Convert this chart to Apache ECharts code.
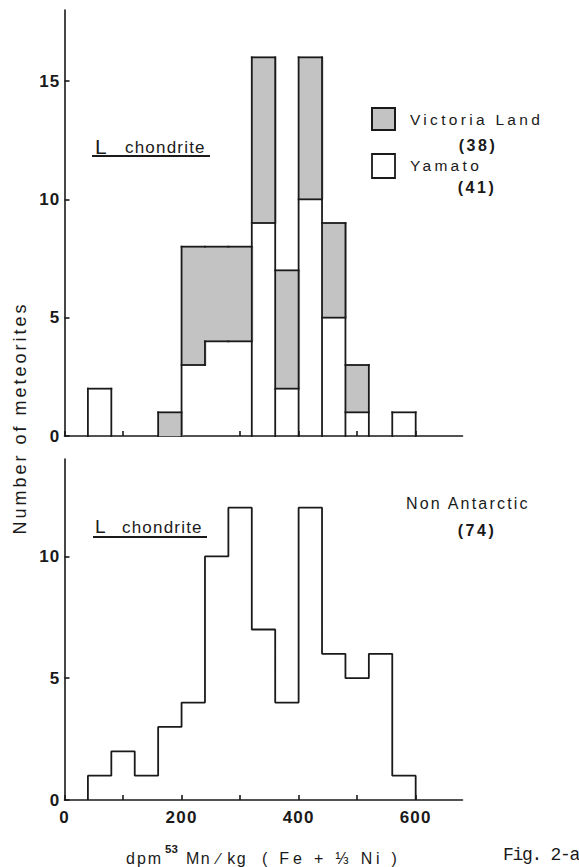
<!DOCTYPE html>
<html>
<head>
<meta charset="utf-8">
<script src="https://cdn.jsdelivr.net/npm/echarts@6/dist/echarts.min.js"></script>
<style>
html,body{margin:0;padding:0;background:#fff;}
#chart{width:579px;height:867px;}
</style>
</head>
<body>
<div id="chart"></div>
<script>
// ---- data (bins of 40 dpm/kg) ----
const binEdges = [0,40,80,120,160,200,240,280,320,360,400,440,480,520,560,600,640,680];
const yamato       = [0,2,0,0,0,3,4,4,9,2,10,5,1,0,1,0,0];
const victoriaLand = [0,0,0,0,1,5,4,4,7,5,6,4,2,0,0,0,0];
const nonAntarctic = [0,1,2,1,3,4,10,12,7,4,12,6,5,6,1,0,0];
const xTicks = [0,100,200,300,400,500,600];
const xTickLabels = [0,200,400,600];
const yTicksTop = [0,5,10,15];
const yTicksBottom = [0,5,10];

const FONT = 'Liberation Sans';
const INK = '#1a1a1a';
const GRAY = '#c3c3c3';
const LW = 1.8;

// top histogram data items: [start, end, yamato, victoria]
const topData = [];
for (let i = 0; i < yamato.length; i++) topData.push([binEdges[i], binEdges[i+1], yamato[i], victoriaLand[i]]);

// bottom outline as step line
let f = nonAntarctic.findIndex(v => v > 0);
let l = nonAntarctic.length - 1; while (nonAntarctic[l] === 0) l--;
const bottomData = [[binEdges[f], 0]];
for (let i = f; i <= l; i++) bottomData.push([binEdges[i], nonAntarctic[i]]);
bottomData.push([binEdges[l+1], 0]);

function renderTop(params, api) {
  const i = params.dataIndex;
  const s = api.value(0), e = api.value(1), yv = api.value(2), vv = api.value(3);
  const pY = i > 0 ? yamato[i-1] : 0, pV = i > 0 ? victoriaLand[i-1] : 0;
  const nV = i < victoriaLand.length - 1 ? victoriaLand[i+1] : 0;
  const x0 = api.coord([s, 0])[0], x1 = api.coord([e, 0])[0];
  const Y = v => api.coord([s, v])[1];
  const total = yv + vv, pTotal = pY + pV;
  const ch = [];
  const line = (a, b, c, d) => ch.push({type:'line', z2:10, shape:{x1:a,y1:b,x2:c,y2:d}, style:{stroke:INK, lineWidth:LW, lineCap:'square'}});
  if (vv > 0) {
    const over = nV > 0 ? 1.5 : 0;   // overlap to avoid seams between adjacent gray bins
    ch.push({type:'rect', z2:0, shape:{x:x0, y:Y(total), width:x1-x0+over, height:Y(yv)-Y(total)}, style:{fill:GRAY}});
  }
  if (total > 0) line(x0, Y(total), x1, Y(total));
  if (yv > 0 && vv > 0) line(x0, Y(yv), x1, Y(yv));
  if (pTotal !== total) line(x0, Y(0), x0, Y(Math.max(pTotal, total)));
  else if (pY !== yv) line(x0, Y(Math.min(pY, yv)), x0, Y(Math.max(pY, yv)));
  return {type:'group', children: ch};
}

const axisLineStyle = {lineStyle:{color:INK, width:1.6}};
const tickStyle = {inside:true, length:5, lineStyle:{color:INK, width:1.6}};
const labelStyle = {color:INK, fontFamily:FONT, fontWeight:'bold', fontSize:17};

function xAxis(idx, showLabels) {
  return {
    type:'value', gridIndex:idx, min:0, max:680,
    axisLine:{show:true, onZero:false, ...axisLineStyle},
    axisTick:{show:true, ...tickStyle, customValues:xTicks},
    axisLabel: showLabels ? {show:true, ...labelStyle, margin:9, customValues:xTickLabels} : {show:false},
    splitLine:{show:false}
  };
}
function yAxis(idx, max, ticks) {
  return {
    type:'value', gridIndex:idx, min:0, max:max,
    axisLine:{show:true, ...axisLineStyle},
    axisTick:{show:true, ...tickStyle, customValues:ticks},
    axisLabel:{show:true, ...labelStyle, margin:4, customValues:ticks},
    splitLine:{show:false}
  };
}

const txt = (o) => ({type:'text', silent:true, style:Object.assign({fill:INK, fontFamily:FONT, fontSize:15}, o.style), x:o.x, y:o.y, rotation:o.rotation||0});

const option = {
  animation:false,
  backgroundColor:'#fff',
  grid:[
    {left:64.5, top:10, width:398, height:426},
    {left:64.5, top:459, width:398, height:341}
  ],
  xAxis:[xAxis(0,false), xAxis(1,true)],
  yAxis:[yAxis(0,18,yTicksTop), yAxis(1,14,yTicksBottom)],
  series:[
    {type:'custom', name:'L chondrite Antarctic', xAxisIndex:0, yAxisIndex:0, renderItem:renderTop, data:topData},
    {type:'line', name:'Non Antarctic', xAxisIndex:1, yAxisIndex:1, step:'end', symbol:'none',
     lineStyle:{color:INK, width:LW}, data:bottomData}
  ],
  graphic:[
    // top "L chondrite"
    txt({x:95, y:146, style:{text:'L', fontSize:21, verticalAlign:'middle'}}),
    txt({x:125, y:147, style:{text:'chondrite', fontSize:17, verticalAlign:'middle'}}),
    {type:'line', shape:{x1:92,y1:156,x2:210,y2:156}, style:{stroke:INK, lineWidth:2}},
    // bottom "L chondrite"
    txt({x:95, y:526, style:{text:'L', fontSize:19, verticalAlign:'middle'}}),
    txt({x:122, y:527, style:{text:'chondrite', fontSize:17, verticalAlign:'middle'}}),
    {type:'line', shape:{x1:93,y1:537,x2:207,y2:537}, style:{stroke:INK, lineWidth:2}},
    // legend
    {type:'rect', shape:{x:372, y:108, width:23, height:22}, style:{fill:GRAY, stroke:INK, lineWidth:2}},
    {type:'rect', shape:{x:372, y:154, width:23, height:24}, style:{fill:'#fff', stroke:INK, lineWidth:1.8}},
    txt({x:410, y:119, style:{text:'Victoria Land', fontSize:15.5, verticalAlign:'middle'}}),
    txt({x:478, y:145, style:{text:'(38)', fontSize:16, fontWeight:'bold', align:'center', verticalAlign:'middle'}}),
    txt({x:410, y:165, style:{text:'Yamato', fontSize:15.5, verticalAlign:'middle'}}),
    txt({x:477, y:187, style:{text:'(41)', fontSize:16, fontWeight:'bold', align:'center', verticalAlign:'middle'}}),
    // non antarctic
    txt({x:406, y:503, style:{text:'Non Antarctic', fontSize:16, verticalAlign:'middle'}}),
    txt({x:477, y:530, style:{text:'(74)', fontSize:16, fontWeight:'bold', align:'center', verticalAlign:'middle'}}),
    // y axis title
    txt({x:20, y:418, rotation:Math.PI/2, style:{text:'Number of meteorites', fontSize:18, align:'center', verticalAlign:'middle'}}),
    // x axis title
    txt({x:126, y:858, style:{text:'dpm', fontSize:16, verticalAlign:'middle'}}),
    txt({x:165, y:849, style:{text:'53', fontSize:11.5, fontWeight:'bold', verticalAlign:'middle'}}),
    txt({x:186, y:858, style:{text:'Mn ∕ kg', fontSize:16, verticalAlign:'middle'}}),
    txt({x:262, y:858, style:{text:'( Fe + ⅓ Ni )', fontSize:16, verticalAlign:'middle'}}),
    // figure label
    txt({x:503, y:855, style:{text:'Fig. 2-a', fontFamily:'Liberation Mono', fontSize:18, verticalAlign:'middle'}})
  ]
};

const chart = echarts.init(document.getElementById('chart'), null, {renderer:'svg'});
chart.setOption(option);

const spacing = {
  'Victoria Land':3.3, 'Yamato':3.3, 'Non Antarctic':2.2, 'Number of meteorites':3,
  'chondrite':1.2, 'dpm':2, 'Mn ∕ kg':1.5, '( Fe + ⅓ Ni )':3.8, '(38)':2.5, '(41)':2.5, '(74)':2.5,
  'Fig. 2-a':-1.3
};
function applySpacing() {
  document.querySelectorAll('#chart text').forEach(t => {
    const c = t.textContent;
    let s = spacing[c];
    if (s == null && /^\d+$/.test(c) && c !== '53') s = 1.2;
    if (s != null) t.style.letterSpacing = s + 'px';
  });
}
chart.on('finished', applySpacing);
applySpacing();
setTimeout(applySpacing, 50);
</script>
</body>
</html>
